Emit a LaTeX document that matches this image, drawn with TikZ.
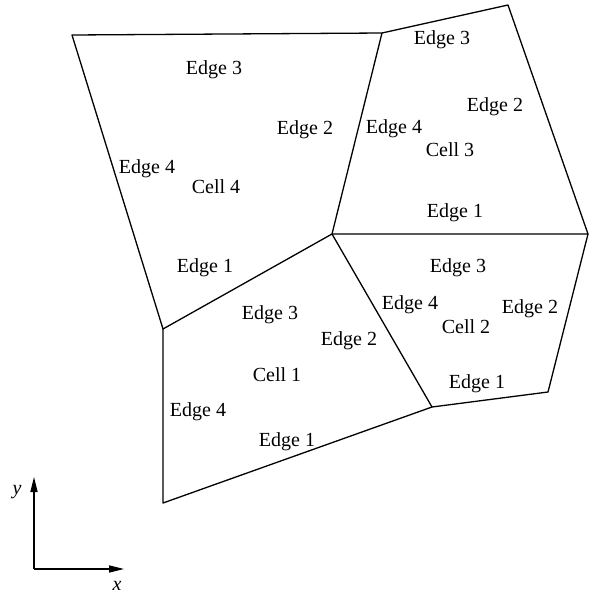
\documentclass[tikz,border=0pt]{standalone}
\usepackage{fontspec}
\setmainfont{Liberation Serif}
\usetikzlibrary{arrows.meta}
\begin{document}
\begin{tikzpicture}[x=1pt,y=-1pt,
  cellline/.style={line width=1.3pt, line join=round},
  lbl/.style={font=\fontsize{20}{23}\selectfont, inner sep=0pt},
  axis/.style={line width=1.4pt, -{Triangle[length=15pt,width=7pt]}}]
\useasboundingbox (0,0) rectangle (590,598);
% vertices
\coordinate (A) at (72,35);
\coordinate (B) at (382,33);
\coordinate (C) at (508,5);
\coordinate (D) at (588,234);
\coordinate (E) at (332,234);
\coordinate (F) at (163,329);
\coordinate (G) at (163,503);
\coordinate (H) at (432,407);
\coordinate (I) at (548,392);
% edges
\draw[cellline] (F) -- (A) -- (B) -- (E) -- cycle;
\draw[cellline] (B) -- (C) -- (D) -- (E);
\draw[cellline] (E) -- (H) -- (I) -- (D);
\draw[cellline] (F) -- (G) -- (H);
% labels cell 4
\node[lbl] (c4e3) at (214,70) {Edge 3};
\node[lbl] (c4e2) at (305,130) {Edge 2};
\node[lbl] (c4e4) at (147,169) {Edge 4};
\node[lbl] (c4) at (216,187) {Cell 4};
\node[lbl] (c4e1) at (205,268) {Edge 1};
% cell 3
\node[lbl] (c3e3) at (442,40) {Edge 3};
\node[lbl] (c3e2) at (495,107) {Edge 2};
\node[lbl] (c3e4) at (394,129) {Edge 4};
\node[lbl] (c3) at (450,150) {Cell 3};
\node[lbl] (c3e1) at (455,213) {Edge 1};
% cell 2
\node[lbl] (c2e3) at (458,268) {Edge 3};
\node[lbl] (c2e4) at (410,305) {Edge 4};
\node[lbl] (c2) at (466,327) {Cell 2};
\node[lbl] (c2e2) at (530,309) {Edge 2};
\node[lbl] (c2e1) at (477,384) {Edge 1};
% cell 1
\node[lbl] (c1e3) at (270,315) {Edge 3};
\node[lbl] (c1e2) at (349,341) {Edge 2};
\node[lbl] (c1) at (277,375) {Cell 1};
\node[lbl] (c1e4) at (198,412) {Edge 4};
\node[lbl] (c1e1) at (287,442) {Edge 1};
% axes
\coordinate (O) at (34,569);
\coordinate (Yt) at (34,477);
\coordinate (Xt) at (124,569);
\draw[axis] (O) -- (Yt);
\draw[axis] (O) -- (Xt);
\node[lbl] (ylab) at (17,492) {\itshape y};
\node[lbl] (xlab) at (117,586) {\itshape x};
\end{tikzpicture}
\end{document}
